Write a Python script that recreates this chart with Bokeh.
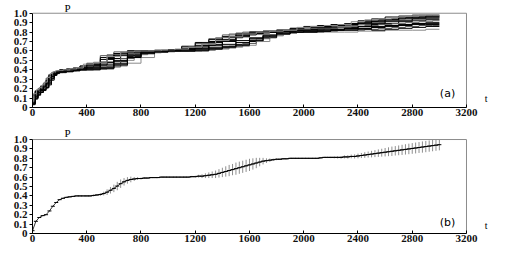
from bokeh.plotting import figure
from bokeh.layouts import column
from bokeh.models import FixedTicker, Label, ColumnDataSource
from bokeh.embed import file_html
from bokeh.resources import INLINE

# ---------------- data ----------------
# (a) individual realisations, sampled on a shared time grid
t_real = [0, 20, 40, 60, 80, 100, 120, 140, 160, 180, 200, 250, 300, 350, 400,
          500, 600, 700, 800, 900, 1000, 1100, 1200, 1300, 1400, 1500, 1600, 1700,
          1800, 1900, 2000, 2100, 2200, 2300, 2400, 2500, 2600, 2700, 2800, 2900, 3000]
r1 = [0.06,0.15,0.19,0.22,0.24,0.28,0.33,0.36,0.38,0.39,0.39,0.40,0.41,0.42,0.45,0.48,0.57,0.60,0.60,0.60,0.61,0.62,0.66,0.70,0.75,0.78,0.80,0.80,0.82,0.82,0.86,0.87,0.88,0.89,0.92,0.94,0.96,0.97,0.98,0.98,0.98]
r2 = [0.03,0.08,0.13,0.15,0.17,0.19,0.22,0.28,0.33,0.36,0.37,0.38,0.39,0.40,0.40,0.40,0.42,0.44,0.47,0.53,0.59,0.60,0.60,0.61,0.62,0.63,0.65,0.72,0.76,0.78,0.80,0.80,0.80,0.80,0.80,0.81,0.81,0.82,0.82,0.82,0.83]
r3 = [0.05,0.12,0.16,0.19,0.21,0.24,0.30,0.34,0.37,0.38,0.39,0.39,0.40,0.41,0.43,0.45,0.52,0.58,0.60,0.60,0.60,0.61,0.63,0.66,0.70,0.74,0.77,0.79,0.80,0.81,0.82,0.84,0.86,0.87,0.89,0.91,0.93,0.94,0.95,0.96,0.96]
r4 = [0.04,0.10,0.15,0.17,0.20,0.22,0.26,0.31,0.35,0.37,0.38,0.39,0.40,0.40,0.41,0.42,0.46,0.54,0.58,0.59,0.60,0.60,0.61,0.62,0.64,0.67,0.70,0.74,0.78,0.80,0.80,0.81,0.82,0.83,0.84,0.85,0.87,0.88,0.89,0.90,0.90]
r5 = [0.07,0.14,0.18,0.20,0.23,0.26,0.31,0.35,0.37,0.38,0.39,0.40,0.40,0.41,0.44,0.47,0.55,0.59,0.60,0.60,0.61,0.61,0.64,0.68,0.73,0.77,0.79,0.80,0.81,0.82,0.84,0.85,0.85,0.86,0.87,0.88,0.90,0.92,0.93,0.94,0.95]
r6 = [0.04,0.09,0.14,0.16,0.18,0.20,0.24,0.29,0.34,0.36,0.37,0.38,0.39,0.40,0.40,0.41,0.44,0.50,0.56,0.58,0.59,0.60,0.60,0.61,0.62,0.64,0.66,0.70,0.76,0.79,0.81,0.82,0.84,0.86,0.88,0.90,0.92,0.95,0.97,0.97,0.97]
r7 = [0.05,0.11,0.17,0.21,0.22,0.25,0.28,0.33,0.36,0.38,0.38,0.39,0.40,0.41,0.42,0.44,0.49,0.56,0.59,0.60,0.60,0.61,0.62,0.64,0.67,0.71,0.74,0.77,0.79,0.80,0.81,0.82,0.83,0.84,0.86,0.88,0.89,0.91,0.92,0.93,0.93]
r8 = [0.06,0.13,0.17,0.18,0.21,0.23,0.27,0.32,0.36,0.37,0.38,0.40,0.41,0.42,0.44,0.46,0.53,0.57,0.59,0.60,0.60,0.61,0.65,0.69,0.72,0.75,0.78,0.80,0.80,0.81,0.83,0.83,0.84,0.85,0.85,0.86,0.86,0.87,0.88,0.88,0.88]
r9 = [0.03,0.09,0.14,0.17,0.19,0.21,0.25,0.30,0.34,0.37,0.38,0.39,0.39,0.40,0.40,0.41,0.43,0.52,0.57,0.59,0.60,0.60,0.61,0.61,0.63,0.65,0.68,0.73,0.77,0.79,0.80,0.80,0.81,0.82,0.82,0.83,0.84,0.85,0.86,0.87,0.87]
r10 = [0.05,0.12,0.16,0.18,0.22,0.25,0.29,0.33,0.36,0.38,0.39,0.40,0.41,0.41,0.43,0.46,0.50,0.55,0.58,0.60,0.61,0.62,0.63,0.67,0.71,0.76,0.79,0.81,0.82,0.84,0.85,0.86,0.87,0.88,0.90,0.92,0.93,0.95,0.96,0.97,0.97]
r11 = [0.04,0.11,0.15,0.18,0.19,0.23,0.27,0.32,0.35,0.37,0.38,0.39,0.40,0.41,0.42,0.43,0.51,0.57,0.60,0.60,0.60,0.61,0.62,0.65,0.69,0.72,0.76,0.78,0.80,0.81,0.82,0.83,0.85,0.87,0.88,0.89,0.91,0.93,0.95,0.95,0.96]
r12 = [0.06,0.14,0.18,0.21,0.23,0.27,0.32,0.35,0.37,0.38,0.39,0.39,0.40,0.42,0.44,0.47,0.56,0.58,0.59,0.60,0.60,0.60,0.64,0.68,0.74,0.78,0.80,0.80,0.81,0.82,0.83,0.84,0.84,0.85,0.86,0.87,0.88,0.89,0.90,0.91,0.92]
r13 = [0.03,0.10,0.14,0.16,0.19,0.21,0.24,0.29,0.34,0.36,0.37,0.38,0.39,0.40,0.41,0.41,0.45,0.53,0.57,0.59,0.60,0.60,0.60,0.62,0.65,0.69,0.73,0.76,0.79,0.80,0.80,0.81,0.82,0.84,0.86,0.89,0.91,0.92,0.94,0.94,0.94]
r14 = [0.05,0.13,0.17,0.19,0.22,0.24,0.29,0.34,0.36,0.38,0.38,0.39,0.40,0.40,0.42,0.45,0.48,0.55,0.58,0.59,0.60,0.61,0.62,0.63,0.66,0.70,0.75,0.79,0.80,0.81,0.82,0.82,0.83,0.83,0.84,0.84,0.85,0.86,0.87,0.89,0.89]
r15 = [0.07,0.15,0.19,0.21,0.24,0.27,0.32,0.36,0.38,0.39,0.39,0.40,0.41,0.42,0.46,0.48,0.54,0.59,0.60,0.60,0.61,0.62,0.64,0.67,0.71,0.75,0.78,0.80,0.81,0.82,0.85,0.86,0.87,0.88,0.91,0.93,0.94,0.96,0.97,0.98,0.98]
r16 = [0.04,0.09,0.13,0.16,0.18,0.21,0.26,0.31,0.35,0.37,0.38,0.38,0.39,0.40,0.40,0.42,0.47,0.53,0.58,0.59,0.60,0.60,0.61,0.63,0.64,0.66,0.71,0.75,0.78,0.80,0.81,0.81,0.82,0.82,0.83,0.82,0.83,0.84,0.85,0.86,0.86]
realisations = [r1, r2, r3, r4, r5, r6, r7, r8, r9, r10, r11, r12, r13, r14, r15, r16]
real_colors = ["black", "#8a8a8a", "black", "black", "#555555", "#8a8a8a", "black", "black",
               "#555555", "black", "black", "#666666", "black", "black", "#8a8a8a", "black"]
real_modes = ["after", "before", "center", "after", "before", "center", "after", "before",
              "center", "after", "before", "center", "after", "before", "center", "after"]

# (b) mean curve with error bars, every 25 time units
t_mean = list(range(0, 3001, 25))
p_mean = [0.03,0.13,0.17,0.19,0.20,0.24,0.29,0.33,
          0.36,0.375,0.385,0.39,0.395,0.40,0.40,0.40,
          0.40,0.40,0.405,0.41,0.415,0.425,0.44,0.46,
          0.48,0.505,0.53,0.55,0.565,0.575,0.58,0.585,
          0.585,0.59,0.59,0.595,0.595,0.595,0.60,0.60,
          0.60,0.60,0.60,0.60,0.60,0.60,0.60,0.605,
          0.605,0.61,0.61,0.615,0.62,0.625,0.63,0.64,
          0.65,0.66,0.67,0.68,0.69,0.70,0.71,0.72,
          0.73,0.74,0.75,0.76,0.77,0.775,0.78,0.785,
          0.79,0.79,0.795,0.795,0.80,0.80,0.80,0.80,
          0.80,0.80,0.80,0.80,0.80,0.805,0.81,0.81,
          0.81,0.81,0.81,0.81,0.815,0.815,0.82,0.82,
          0.825,0.83,0.835,0.84,0.845,0.85,0.855,0.86,
          0.865,0.87,0.875,0.88,0.885,0.89,0.895,0.90,
          0.905,0.91,0.915,0.92,0.925,0.93,0.935,0.94,
          0.945]
p_err = [0,0,0,0,0,0,0,0,
         0,0,0,0,0,0,0,0,
         0.005,0.005,0.01,0.01,0.015,0.02,0.03,0.035,
         0.04,0.045,0.045,0.04,0.035,0.03,0.02,0.015,
         0.01,0.01,0.005,0.005,0.005,0.005,0.005,0.005,
         0.003,0.003,0.003,0.003,0.003,0.005,0.005,0.008,
         0.01,0.015,0.02,0.025,0.03,0.035,0.04,0.045,
         0.05,0.055,0.06,0.06,0.065,0.065,0.065,0.065,
         0.065,0.06,0.055,0.045,0.035,0.025,0.018,0.012,
         0.01,0.008,0.006,0.005,0.005,0.005,0.004,0.004,
         0.004,0.004,0.004,0.004,0.005,0.005,0.006,0.007,
         0.008,0.01,0.012,0.014,0.016,0.018,0.02,0.022,
         0.025,0.027,0.03,0.032,0.035,0.037,0.04,0.042,
         0.045,0.047,0.05,0.05,0.052,0.054,0.055,0.056,
         0.057,0.058,0.058,0.06,0.06,0.06,0.06,0.06,
         0.06]

x_ticks = [0, 400, 800, 1200, 1600, 2000, 2400, 2800, 3200]
y_ticks = [0, 0.1, 0.2, 0.3, 0.4, 0.5, 0.6, 0.7, 0.8, 0.9, 1.0]
y_labels = {0: "0", 0.1: "0.1", 0.2: "0.2", 0.3: "0.3", 0.4: "0.4", 0.5: "0.5",
            0.6: "0.6", 0.7: "0.7", 0.8: "0.8", 0.9: "0.9", 1.0: "1.0"}

SERIF = "Liberation Serif"
X_MAX = x_ticks[-1]
Y_MAX = y_ticks[-1]


def make_fig(height, top, bottom, y_end):
    # the frame is extended beyond the axis box so that "P" and "t" stay visible
    p = figure(width=500, height=height, x_range=(0, 3436), y_range=(0, y_end),
               output_backend="svg", toolbar_location=None,
               min_border_left=32, min_border_right=2,
               min_border_top=top, min_border_bottom=bottom)
    p.grid.visible = False
    p.outline_line_color = None
    p.background_fill_color = "white"
    p.border_fill_color = "white"
    for ax in (p.xaxis[0], p.yaxis[0]):
        ax.axis_line_color = "black"
        ax.major_tick_line_color = "black"
        ax.minor_tick_line_color = None
        ax.major_label_text_font = SERIF
        ax.major_label_text_font_size = "11px"
        ax.major_label_text_font_style = "bold"
        ax.major_label_text_color = "#111111"
    p.xaxis.ticker = FixedTicker(ticks=x_ticks)
    p.xaxis.bounds = (0, X_MAX)
    p.xaxis.major_tick_in = 3
    p.xaxis.major_tick_out = 0
    p.xaxis.major_label_standoff = 1
    p.yaxis.ticker = FixedTicker(ticks=y_ticks)
    p.yaxis.bounds = (0, Y_MAX)
    p.yaxis.major_label_overrides = y_labels
    p.yaxis.major_tick_in = 0
    p.yaxis.major_tick_out = 3
    p.yaxis.major_label_standoff = 2
    # top and right edges of the axis box
    p.segment(x0=[0, X_MAX], y0=[Y_MAX, 0], x1=[X_MAX, X_MAX], y1=[Y_MAX, Y_MAX],
              line_color="#8c8c8c", line_width=1)
    return p


def add_label(p, x, y, text, font, size):
    p.add_layout(Label(x=x, y=y, text=text, text_font=font, text_font_size=size,
                       text_color="black", text_align="center", text_baseline="middle"))


# ---------- panel (a) ----------
pa = make_fig(125, 2, 18, 1.114)
for vals, col, mode in zip(realisations, real_colors, real_modes):
    pa.step(t_real, vals, mode=mode, line_color=col, line_width=1)

add_label(pa, 258, 1.06, "P", SERIF, "11px")
add_label(pa, 3345, 0.1, "t", SERIF, "10px")
add_label(pa, 3060, 0.15, "(a)", "DejaVu Sans", "11px")

# ---------- panel (b) ----------
pb = make_fig(122, 2, 14, 1.128)
lower = [m - e for m, e in zip(p_mean, p_err)]
upper = [m + e for m, e in zip(p_mean, p_err)]
src = ColumnDataSource(dict(t=t_mean, m=p_mean, lo=lower, hi=upper))
pb.segment(x0="t", y0="lo", x1="t", y1="hi", source=src, line_color="#8f8f8f", line_width=1)
pb.line(x="t", y="m", source=src, line_color="#333333", line_width=1)
pb.scatter(x="t", y="m", source=src, marker="dash", size=4, line_color="black", line_width=1)

add_label(pb, 258, 1.074, "P", SERIF, "11px")
add_label(pb, 3345, 0.09, "t", SERIF, "10px")
add_label(pb, 3060, 0.12, "(b)", "DejaVu Sans", "11px")

layout = column(pa, pb, spacing=0)
open("out.html", "w").write(file_html(layout, INLINE))
